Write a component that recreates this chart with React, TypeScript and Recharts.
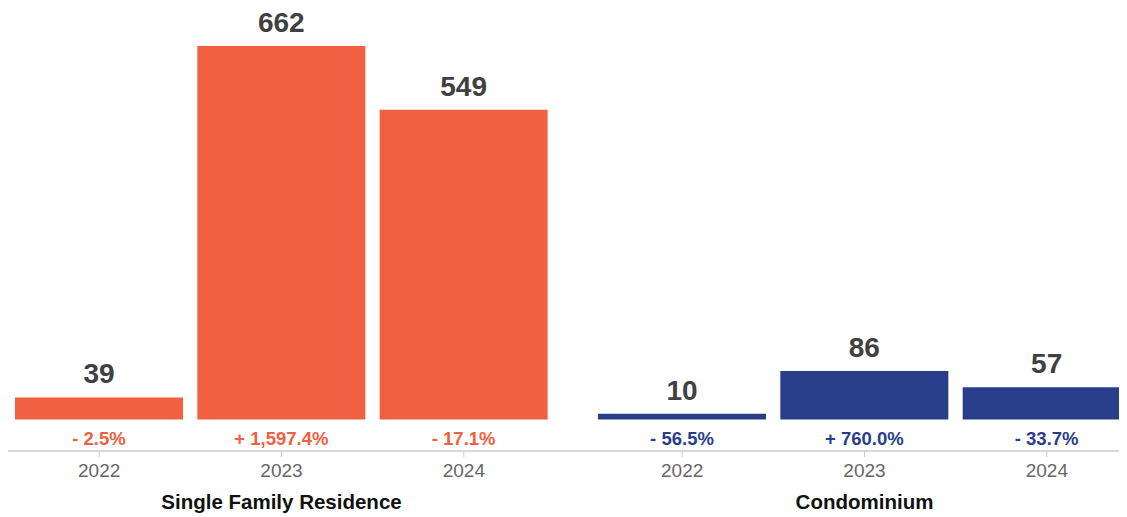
import React from 'react';
import { BarChart, Bar, XAxis, YAxis, LabelList } from 'recharts';

const years = ['2022', '2023', '2024'];
const sfrCounts = [39, 662, 549];
const sfrChanges = ['- 2.5%', '+ 1,597.4%', '- 17.1%'];
const condoCounts = [10, 86, 57];
const condoChanges = ['- 56.5%', '+ 760.0%', '- 33.7%'];
const groupNames = ['Single Family Residence', 'Condominium'];

const ORANGE = '#F06041';
const BLUE = '#293E8B';
const FONT = '"Liberation Sans", Arial, Helvetica, sans-serif';
const Y_DOMAIN: [number, number] = [-56, 662];

const buildRows = (group: string, counts: number[], changes: string[]) =>
  years.map((year, i) => ({ year, group, count: counts[i], change: changes[i] }));

const sfrRows = buildRows(groupNames[0], sfrCounts, sfrChanges);
const condoRows = buildRows(groupNames[1], condoCounts, condoChanges);

function Panel({ rows, color, padding }: { rows: any[]; color: string; padding: { left: number; right: number } }) {
  const changeLabel = (props: any) => {
    const { x, y, width, height, value } = props;
    return (
      <text
        x={Number(x) + Number(width) / 2}
        y={Number(y) + Number(height) + 25.5}
        textAnchor="middle"
        fill={color}
        fontSize={18.5}
        fontWeight={700}
        fontFamily={FONT}
      >
        {value}
      </text>
    );
  };
  return (
    <div style={{ flex: '0 0 565px', width: 565 }}>
      <BarChart
        width={565}
        height={508}
        data={rows}
        margin={{ top: 38, right: 0, bottom: 0, left: 0 }}
        barSize={168}
      >
        <YAxis hide type="number" domain={Y_DOMAIN} />
        <XAxis
          xAxisId={0}
          dataKey="year"
          height={30}
          padding={padding}
          axisLine={{ stroke: '#D9D9D9', strokeWidth: 2 }}
          tickLine={{ stroke: '#CCCCCC' }}
          tickSize={6}
          tickMargin={7}
          interval={0}
          tick={{ fill: '#666666', fontSize: 19, fontFamily: FONT }}
        />
        <XAxis
          xAxisId={1}
          dataKey="group"
          height={35}
          padding={padding}
          allowDuplicatedCategory={false}
          axisLine={false}
          tickLine={false}
          tickSize={0}
          tickMargin={13}
          interval={0}
          tick={{ fill: '#111111', fontSize: 20.5, fontWeight: 700, fontFamily: FONT }}
        />
        <Bar xAxisId={0} dataKey="count" fill={color} isAnimationActive={false}>
          <LabelList
            dataKey="count"
            position="top"
            offset={14}
            fill="#404040"
            fontSize={28}
            fontWeight={700}
            fontFamily={FONT}
          />
          <LabelList dataKey="change" content={changeLabel} />
        </Bar>
      </BarChart>
    </div>
  );
}

export default function App() {
  return (
    <div style={{ width: 1130, height: 508, display: 'flex' }}>
      <Panel rows={sfrRows} color={ORANGE} padding={{ left: 0, right: 18 }} />
      <Panel rows={condoRows} color={BLUE} padding={{ left: 18, right: 0 }} />
    </div>
  );
}
